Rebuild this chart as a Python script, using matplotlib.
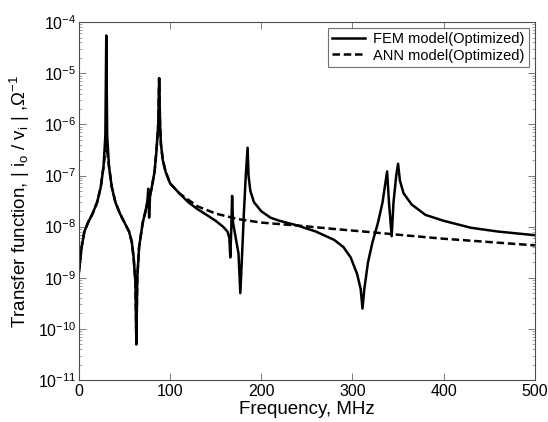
import numpy as np
import matplotlib
matplotlib.use("Agg")
from matplotlib import pyplot as plt

plt.rcParams['font.family'] = ['Liberation Sans', 'DejaVu Sans']
plt.rcParams['mathtext.fontset'] = 'custom'
plt.rcParams['mathtext.rm'] = 'Liberation Sans'
plt.rcParams['mathtext.it'] = 'Liberation Sans'
plt.rcParams['mathtext.default'] = 'regular'

# FEM model (optimized): frequency MHz, |io/vi|
fem_f = [0, 3, 6, 10, 15, 20, 24, 27, 29, 30, 31, 33, 36, 40, 45, 50, 55, 58, 60, 62, 63,
         64, 66, 70, 73, 75, 76, 77, 78, 80, 83, 85, 87, 88, 89, 90, 92, 95, 100, 110, 120,
         130, 140, 150, 158, 163, 165, 166, 167, 168, 169, 172, 175, 177, 179, 181, 183,
         185, 186, 188, 192, 200, 210, 220, 240, 260, 280, 290, 298, 305, 309, 311, 313,
         317, 322, 328, 333, 336, 338, 340, 343, 345, 348, 350, 352, 356, 365, 380, 400,
         430, 460, 500]
fem_v = [1.3e-9, 4e-9, 8e-9, 1.2e-8, 1.8e-8, 3e-8, 6e-8, 1.5e-7, 6e-7, 5.5e-5, 6e-7, 1.5e-7,
         6e-8, 3e-8, 1.8e-8, 1.2e-8, 8e-9, 5e-9, 2.5e-9, 8e-10, 5e-11,
         1e-9, 4e-9, 1.2e-8, 2e-8, 3e-8, 5.5e-8, 1.5e-8, 4e-8, 6e-8, 1.2e-7, 3e-7, 1e-6,
         8e-6, 1e-6, 4e-7, 2e-7, 1.2e-7, 7e-8, 4.5e-8, 3e-8,
         2.2e-8, 1.7e-8, 1.3e-8, 1e-8, 8e-9, 6e-9, 2.5e-9, 8e-9, 4e-8, 1.2e-8, 6e-9, 3e-9,
         5e-10, 3e-9, 2e-8, 1e-7,
         3.5e-7, 1e-7, 5e-8, 3e-8, 2e-8, 1.5e-8, 1.3e-8, 1.05e-8, 8e-9, 5.5e-9, 4e-9,
         2.5e-9, 1.2e-9, 6e-10, 2.5e-10, 6e-10,
         2e-9, 5e-9, 1.2e-8, 3e-8, 7e-8, 1.2e-7, 3e-8, 6.5e-9, 3e-8, 1e-7, 1.7e-7, 8e-8,
         4.5e-8, 2.7e-8, 1.7e-8, 1.3e-8,
         9.5e-9, 8e-9, 6.8e-9]

# ANN model (optimized)
ann_f = [0, 3, 6, 10, 15, 20, 24, 27, 29, 30, 31, 33, 36, 40, 45, 50, 55, 58, 60, 62, 63,
         64, 66, 70, 73, 75, 78, 80, 83, 85, 87, 88, 89, 90, 92, 95, 100, 110, 130, 150,
         175, 200, 240, 280, 320, 360, 400, 450, 500]
ann_v = [1.3e-9, 4e-9, 8e-9, 1.2e-8, 1.8e-8, 3e-8, 6e-8, 1.5e-7, 3e-7, 5e-7, 3e-7, 1.5e-7,
         6e-8, 3e-8, 1.8e-8, 1.2e-8, 8e-9, 5e-9, 2.5e-9, 8e-10, 5e-11,
         1e-9, 4e-9, 1.2e-8, 2e-8, 3e-8, 4e-8, 6e-8, 1.2e-7, 3e-7, 1e-6, 8e-6, 1e-6, 4e-7,
         2e-7, 1.2e-7, 7e-8, 4.5e-8, 2.5e-8, 1.8e-8,
         1.4e-8, 1.2e-8, 1.05e-8, 9e-9, 7.8e-9, 6.7e-9, 5.8e-9, 5e-9, 4.3e-9]

fig = plt.figure(figsize=(5.48, 4.22), dpi=100)
ax = fig.add_axes([0.144, 0.0995, 0.832, 0.848])

ax.plot(fem_f, fem_v, color='black', lw=1.8, label='FEM model(Optimized)')
ax.plot(ann_f, ann_v, color='black', lw=1.8, ls=(0, (3, 1.5)), label='ANN model(Optimized)')

ax.set_yscale('log')
ax.set_xlim(0, 500)
ax.set_ylim(1e-11, 1e-4)
ax.set_xticks([0, 100, 200, 300, 400, 500])
ax.tick_params(which='both', direction='in', top=True, right=True, labelsize=11.5)
ax.tick_params(axis='x', pad=3)
ax.tick_params(axis='y', pad=2)
ax.tick_params(which='major', length=5, width=0.6, color='0.4')
ax.tick_params(which='minor', length=2.5, width=0.5, color='0.5')
for s in ax.spines.values():
    s.set_linewidth(0.8)
    s.set_color('0.3')

ax.set_xlabel('Frequency, MHz', fontsize=13.5, labelpad=1)
ax.set_ylabel(r'Transfer function, $|$ i$_o$ / v$_i$ $|$ ,$\Omega^{-1}$', fontsize=13.5, labelpad=4)

leg = ax.legend(loc='upper right', fontsize=10.5, frameon=True, fancybox=False,
                edgecolor='0.3', borderaxespad=0.4, handlelength=2.2, borderpad=0.3,
                labelspacing=0.15, handletextpad=0.6)
leg.get_frame().set_linewidth(0.8)

fig.savefig('out.png', dpi=100)
